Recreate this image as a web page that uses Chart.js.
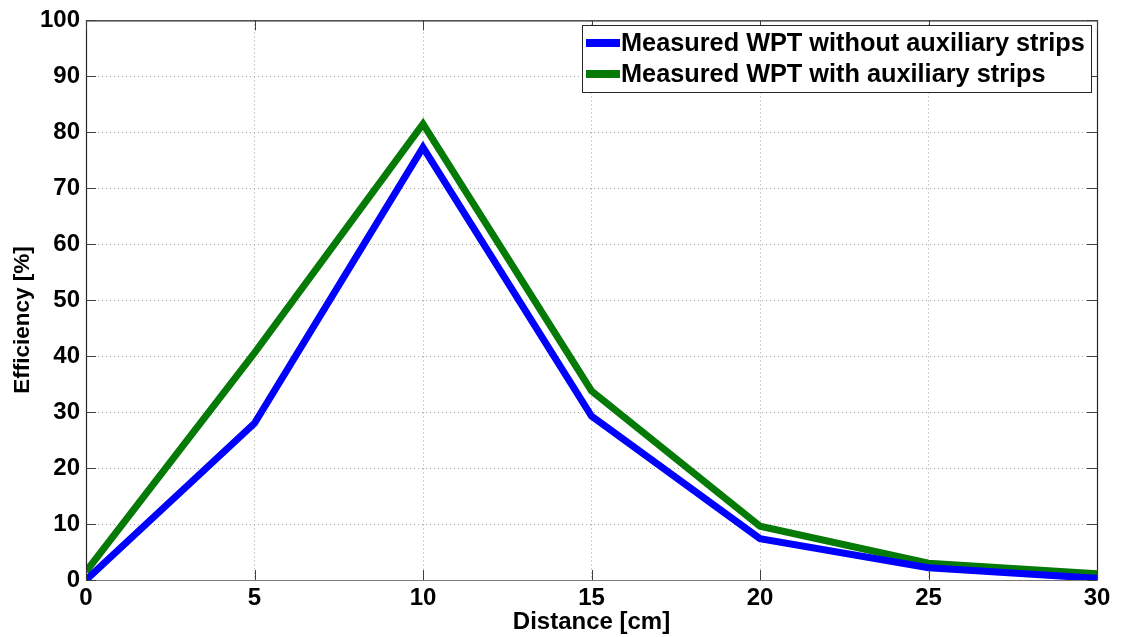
<!DOCTYPE html>
<html>
<head>
<meta charset="utf-8">
<script src="https://cdn.jsdelivr.net/npm/chart.js@4"></script>
<style>
  html, body { margin: 0; padding: 0; background: #fff; }
  #wrap { width: 1121px; height: 637px; }
</style>
</head>
<body>
<div id="wrap"><canvas id="myChart" width="1121" height="637"></canvas></div>
<script>
// data
var distance = [0, 5, 10, 15, 20, 25, 30];
var withoutStrips = [0, 28, 77.3, 29.3, 7.4, 2.2, 0.3];
var withStrips = [1.5, 40.6, 81.5, 33.8, 9.6, 3.0, 1.1];
var seriesNames = ['Measured WPT without auxiliary strips', 'Measured WPT with auxiliary strips'];
var seriesColors = ['#0000ff', '#067a06'];
var xTicks = [0, 5, 10, 15, 20, 25, 30];
var yTicks = [0, 10, 20, 30, 40, 50, 60, 70, 80, 90, 100];
var yTitle = 'Efficiency [%]';

var FONT = '"Liberation Sans", Arial, sans-serif';

function toPoints(xs, ys) {
    return xs.map(function (x, i) { return { x: x, y: ys[i] }; });
}

// box, inward ticks, y title and legend like the matlab figure
var boxPlugin = {
    id: 'boxPlugin',
    afterDatasetsDraw: function (chart) {
        var ctx = chart.ctx, a = chart.chartArea;
        var xs = chart.scales.x, ys = chart.scales.y;
        ctx.save();
        ctx.lineWidth = 1.2;
        ctx.strokeStyle = '#262626';
        ctx.beginPath();
        ctx.moveTo(a.left + 0.5, a.bottom); ctx.lineTo(a.left + 0.5, a.top + 0.5);
        ctx.lineTo(a.right + 0.5, a.top + 0.5); ctx.lineTo(a.right + 0.5, a.bottom);
        ctx.stroke();
        ctx.strokeStyle = '#7a7a7a';
        ctx.beginPath();
        ctx.moveTo(a.left, a.bottom + 0.5); ctx.lineTo(a.right + 1, a.bottom + 0.5);
        ctx.stroke();

        ctx.strokeStyle = '#404040';
        ctx.lineWidth = 1;
        ctx.beginPath();
        xTicks.forEach(function (t) {
            var px = Math.round(xs.getPixelForValue(t)) + 0.5;
            ctx.moveTo(px, a.bottom); ctx.lineTo(px, a.bottom - 10);
            ctx.moveTo(px, a.top); ctx.lineTo(px, a.top + 10);
        });
        yTicks.forEach(function (t) {
            var py = Math.round(ys.getPixelForValue(t)) + 0.5;
            ctx.moveTo(a.left, py); ctx.lineTo(a.left + 10, py);
            ctx.moveTo(a.right, py); ctx.lineTo(a.right - 10, py);
        });
        ctx.stroke();

        // y title, sits a bit below the middle in the original
        ctx.save();
        ctx.translate(23, 320);
        ctx.rotate(-Math.PI / 2);
        ctx.font = 'bold 22.5px ' + FONT;
        ctx.fillStyle = '#000';
        ctx.textAlign = 'center';
        ctx.textBaseline = 'middle';
        ctx.fillText(yTitle, 0, 0);
        ctx.restore();

        // legend
        var lx = 582, ly = 25, lw = 509, lh = 67;
        ctx.fillStyle = '#fff';
        ctx.fillRect(lx, ly, lw, lh);
        ctx.strokeStyle = '#262626';
        ctx.lineWidth = 1;
        ctx.strokeRect(lx + 0.5, ly + 0.5, lw, lh);
        ctx.font = 'bold 25.3px ' + FONT;
        ctx.textBaseline = 'middle';
        ctx.textAlign = 'left';
        seriesNames.forEach(function (name, i) {
            var cy = ly + 18 + i * 31;
            ctx.strokeStyle = seriesColors[i];
            ctx.lineWidth = 8;
            ctx.beginPath();
            ctx.moveTo(lx + 4, cy); ctx.lineTo(lx + 38, cy);
            ctx.stroke();
            ctx.fillStyle = '#000';
            ctx.fillText(name, lx + 39, cy + 1);
        });
        ctx.restore();
    }
};

var chartEl = document.getElementById('myChart');
var myChart = new Chart(chartEl, {
    type: 'line',
    data: {
        datasets: [{
            label: seriesNames[0],
            data: toPoints(distance, withoutStrips),
            borderColor: seriesColors[0],
            backgroundColor: seriesColors[0],
            borderWidth: 7,
            pointRadius: 0,
            tension: 0
        }, {
            label: seriesNames[1],
            data: toPoints(distance, withStrips),
            borderColor: seriesColors[1],
            backgroundColor: seriesColors[1],
            borderWidth: 7,
            pointRadius: 0,
            tension: 0
        }]
    },
    options: {
        responsive: false,
        animation: false,
        layout: { padding: { top: 18, right: 24, left: 0, bottom: 0 } },
        plugins: {
            legend: { display: false },
            tooltip: { enabled: false }
        },
        scales: {
            x: {
                type: 'linear',
                min: 0, max: 30,
                afterBuildTicks: function (s) { s.ticks = xTicks.map(function (v) { return { value: v }; }); },
                afterFit: function (s) { s.height = 57; },
                grid: { color: '#a0a0a0', drawTicks: false, lineWidth: 1 },
                border: { display: false, dash: [1, 3] },
                ticks: { color: '#000', padding: 4, maxRotation: 0, font: { family: FONT, size: 24, weight: 'bold' } },
                title: { display: true, text: 'Distance [cm]', color: '#000', padding: { top: 0, bottom: 0 }, font: { family: FONT, size: 24, weight: 'bold' } }
            },
            y: {
                min: 0, max: 100,
                afterBuildTicks: function (s) { s.ticks = yTicks.map(function (v) { return { value: v }; }); },
                afterFit: function (s) { s.width = 86; },
                grid: { color: '#a0a0a0', drawTicks: false, lineWidth: 1 },
                border: { display: false, dash: [1, 3] },
                ticks: { color: '#000', padding: 6, font: { family: FONT, size: 24, weight: 'bold' } }
            }
        }
    },
    plugins: [boxPlugin]
});
</script>
</body>
</html>
